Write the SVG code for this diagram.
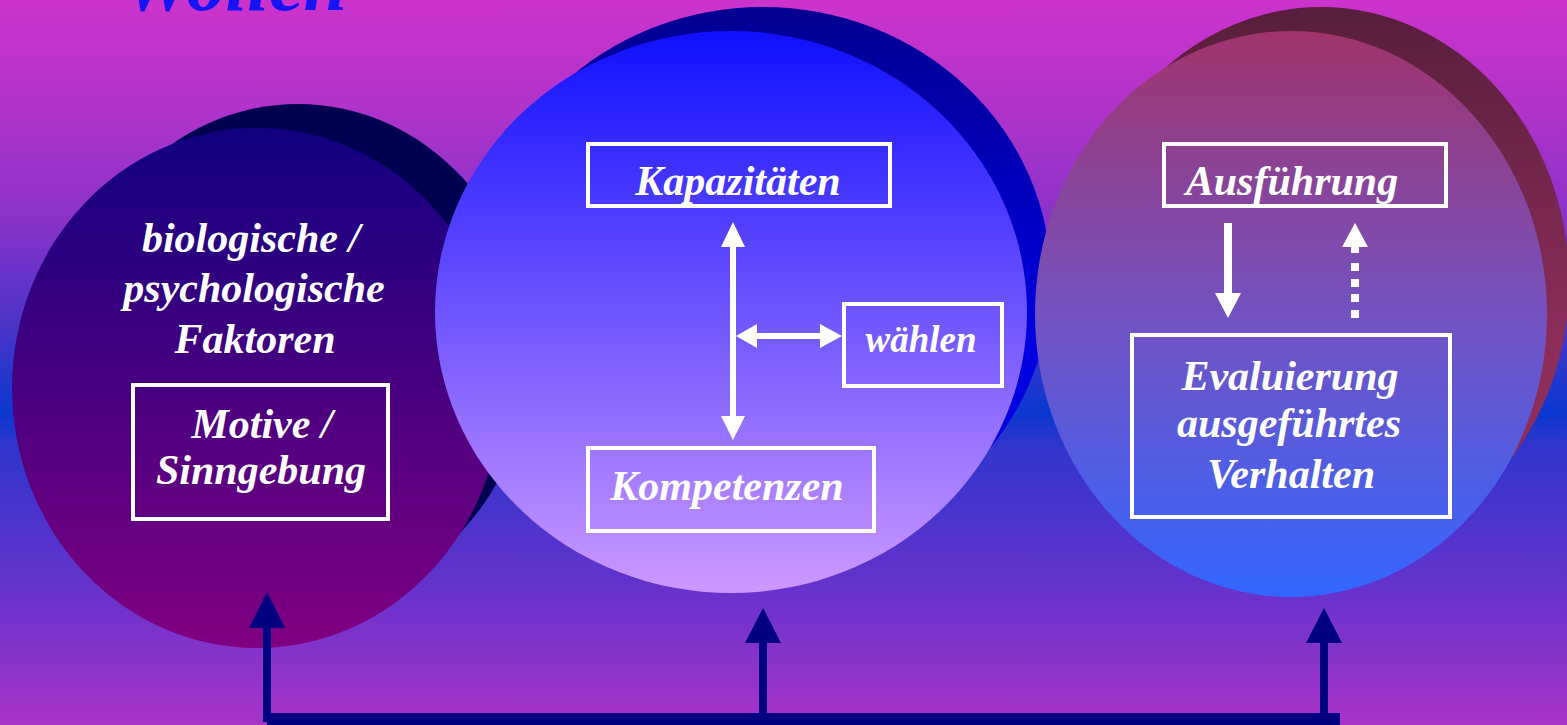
<svg xmlns="http://www.w3.org/2000/svg" width="1567" height="725" viewBox="0 0 1567 725">
<defs>
<linearGradient id="bg" x1="0" y1="0" x2="0" y2="1">
<stop offset="0" stop-color="#CC33CC"/>
<stop offset="0.14" stop-color="#B233CA"/>
<stop offset="0.3" stop-color="#8A32C8"/>
<stop offset="0.45" stop-color="#4A34C8"/>
<stop offset="0.57" stop-color="#0A38D0"/>
<stop offset="0.61" stop-color="#2E35CC"/>
<stop offset="0.8" stop-color="#6233CC"/>
<stop offset="1" stop-color="#A833C8"/>
</linearGradient>
<linearGradient id="gL" x1="0" y1="0" x2="0" y2="1">
<stop offset="0" stop-color="#100080"/>
<stop offset="1" stop-color="#800080"/>
</linearGradient>
<linearGradient id="gM" x1="0" y1="0" x2="0" y2="1">
<stop offset="0" stop-color="#1010FF"/>
<stop offset="1" stop-color="#CC99FF"/>
</linearGradient>
<linearGradient id="gMs" x1="0" y1="0" x2="0" y2="1">
<stop offset="0" stop-color="#000090"/>
<stop offset="0.6" stop-color="#0000E0"/>
<stop offset="1" stop-color="#0000E0"/>
</linearGradient>
<linearGradient id="gR" x1="0" y1="0" x2="0" y2="1">
<stop offset="0" stop-color="#A0346C"/>
<stop offset="0.5" stop-color="#7452C0"/>
<stop offset="1" stop-color="#3366FF"/>
</linearGradient>
<linearGradient id="gRs" x1="0" y1="0" x2="0" y2="1">
<stop offset="0" stop-color="#581E3C"/>
<stop offset="0.6" stop-color="#8C2D5A"/>
<stop offset="1" stop-color="#8C2D5A"/>
</linearGradient>
<style>
.t{font-family:"Liberation Serif","Times New Roman",serif;font-weight:bold;font-style:italic;fill:#FFFFFF;font-size:42px;text-anchor:middle}
.box{fill:none;stroke:#FFFFFF;stroke-width:4}
.wa{fill:#FFFFFF}
.na{fill:#000080}
</style>
</defs>
<rect x="0" y="0" width="1567" height="725" fill="url(#bg)"/>
<text x="123" y="10" font-family="Liberation Serif, serif" font-weight="bold" font-style="italic" font-size="78" fill="#1414F5">Wollen</text>

<g id="node-left">
<ellipse cx="298" cy="354" rx="232" ry="250" fill="#000050"/>
<ellipse cx="257" cy="388" rx="245" ry="260" fill="url(#gL)"/>
<text class="t" x="251" y="252">biologische /</text>
<text class="t" x="254" y="302">psychologische</text>
<text class="t" x="255" y="353">Faktoren</text>
<rect class="box" x="133" y="385" width="255" height="134"/>
<text class="t" x="262" y="438">Motive /</text>
<text class="t" x="261" y="484">Sinngebung</text>
</g>

<g id="node-middle">
<ellipse cx="763" cy="280" rx="288" ry="273" fill="url(#gMs)"/>
<ellipse cx="731" cy="312" rx="296" ry="281" fill="url(#gM)"/>
<g id="box-kapazitaeten">
<rect class="box" x="588" y="144" width="302" height="62"/>
<text class="t" x="738" y="195">Kapazitäten</text>
</g>
<g id="box-waehlen">
<rect class="box" x="844" y="304" width="158" height="82"/>
<text class="t" x="921" y="352" style="font-size:37px">wählen</text>
</g>
<g id="box-kompetenzen">
<rect class="box" x="588" y="448" width="286" height="83"/>
<text class="t" x="727" y="500">Kompetenzen</text>
</g>
</g>

<g id="node-right">
<ellipse cx="1321" cy="282" rx="248" ry="275" fill="url(#gRs)"/>
<ellipse cx="1291" cy="314" rx="256" ry="283" fill="url(#gR)"/>
<g id="box-ausfuehrung">
<rect class="box" x="1164" y="144" width="282" height="62"/>
<text class="t" x="1292" y="195">Ausführung</text>
</g>
<g id="box-evaluierung">
<rect class="box" x="1132" y="335" width="318" height="182"/>
<text class="t" x="1290" y="390">Evaluierung</text>
<text class="t" x="1289" y="437">ausgeführtes</text>
<text class="t" x="1291" y="488">Verhalten</text>
</g>
</g>

<g id="connectors">
<rect class="wa" x="730" y="245" width="6" height="173"/>
<polygon class="wa" points="733,222 745,247 721,247"/>
<polygon class="wa" points="733,440 745,416 721,416"/>
<rect class="wa" x="755" y="333" width="67" height="6"/>
<polygon class="wa" points="736,336 757,324 757,348"/>
<polygon class="wa" points="842,336 820,324 820,348"/>
<rect class="wa" x="1224" y="223" width="8" height="72"/>
<polygon class="wa" points="1228,318 1215,293 1241,293"/>
<polygon class="wa" points="1355,223 1368,247 1342,247"/>
<rect class="wa" x="1351" y="246" width="8" height="7"/>
<rect class="wa" x="1351" y="263" width="8" height="8"/>
<rect class="wa" x="1351" y="279" width="8" height="8"/>
<rect class="wa" x="1351" y="294" width="8" height="8"/>
<rect class="wa" x="1351" y="310" width="8" height="8"/>
<rect class="na" x="263" y="626" width="8" height="96"/>
<polygon class="na" points="267,592 285,628 249,628"/>
<rect class="na" x="759" y="641" width="8" height="76"/>
<polygon class="na" points="763,608 781,643 745,643"/>
<rect class="na" x="1320" y="641" width="8" height="76"/>
<polygon class="na" points="1324,608 1342,643 1306,643"/>
<rect class="na" x="267" y="713" width="1073" height="12"/>
</g>
</svg>
